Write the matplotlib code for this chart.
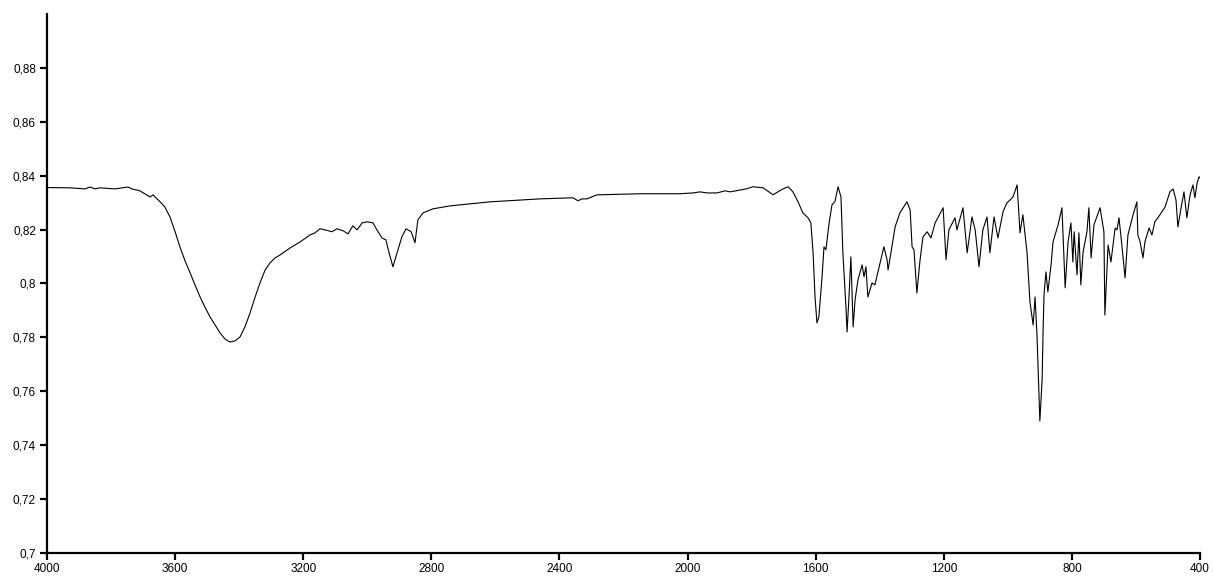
import numpy as np
import matplotlib
matplotlib.use('Agg')
import matplotlib.pyplot as plt
from matplotlib.ticker import FuncFormatter

# IR spectrum (wavenumber cm-1, transmittance)
wavenumber = [
    4000, 3928, 3881, 3866, 3850, 3835, 3788, 3747, 3735, 3710,
    3678, 3669, 3647, 3632, 3616, 3600, 3585, 3569, 3553, 3538,
    3522, 3507, 3491, 3475, 3460, 3444, 3429, 3413, 3397, 3382,
    3366, 3351, 3335, 3319, 3304, 3288, 3272, 3241, 3210, 3179,
    3163, 3148, 3132, 3110, 3095, 3076, 3060, 3045, 3032, 3016,
    3001, 2982, 2970, 2954, 2942, 2932, 2920, 2907, 2892, 2879,
    2863, 2851, 2842, 2826, 2795, 2742, 2617, 2461, 2358, 2342,
    2330, 2314, 2283, 2148, 2024, 1983, 1961, 1939, 1908, 1883,
    1867, 1836, 1817, 1796, 1764, 1733, 1718, 1702, 1686, 1671,
    1655, 1640, 1624, 1615, 1608, 1602, 1596, 1590, 1580, 1574,
    1568, 1558, 1549, 1540, 1530, 1521, 1515, 1505, 1502, 1496,
    1490, 1483, 1477, 1468, 1455, 1449, 1443, 1437, 1424, 1415,
    1399, 1387, 1377, 1374, 1365, 1352, 1337, 1315, 1305, 1299,
    1293, 1284, 1274, 1265, 1252, 1240, 1227, 1202, 1193, 1184,
    1165, 1159, 1140, 1127, 1112, 1102, 1090, 1078, 1065, 1056,
    1043, 1031, 1015, 1003, 993, 984, 971, 962, 953, 940,
    931, 921, 915, 909, 900, 893, 890, 887, 881, 875,
    865, 859, 843, 831, 821, 812, 803, 797, 793, 784,
    778, 772, 765, 753, 747, 740, 731, 712, 700, 697,
    687, 678, 665, 659, 653, 644, 634, 625, 609, 597,
    594, 587, 578, 572, 559, 550, 541, 525, 509, 494,
    484, 475, 469, 459, 450, 441, 431, 422, 416, 409,
    403, 400,
]
transmittance = [
    0.8356, 0.8355, 0.8351, 0.8358, 0.8351, 0.8355, 0.8351, 0.8358, 0.8351, 0.8344,
    0.8321, 0.8329, 0.8303, 0.8284, 0.8247, 0.8192, 0.8136, 0.8084, 0.8039, 0.7995,
    0.7950, 0.7913, 0.7876, 0.7846, 0.7817, 0.7794, 0.7783, 0.7787, 0.7802, 0.7839,
    0.7891, 0.7947, 0.8002, 0.8050, 0.8076, 0.8095, 0.8106, 0.8132, 0.8154, 0.8180,
    0.8188, 0.8203, 0.8199, 0.8192, 0.8203, 0.8196, 0.8184, 0.8214, 0.8199, 0.8225,
    0.8229, 0.8225, 0.8199, 0.8169, 0.8162, 0.8114, 0.8062, 0.8114, 0.8173, 0.8203,
    0.8192, 0.8151, 0.8236, 0.8262, 0.8277, 0.8288, 0.8303, 0.8314, 0.8318, 0.8307,
    0.8314, 0.8314, 0.8329, 0.8333, 0.8333, 0.8336, 0.8340, 0.8336, 0.8336, 0.8344,
    0.8340, 0.8347, 0.8351, 0.8359, 0.8355, 0.8329, 0.8340, 0.8351, 0.8359, 0.8340,
    0.8303, 0.8262, 0.8244, 0.8225, 0.8114, 0.7950, 0.7854, 0.7876, 0.8025, 0.8136,
    0.8125, 0.8225, 0.8292, 0.8303, 0.8359, 0.8321, 0.8114, 0.7902, 0.7820, 0.7950,
    0.8099, 0.7839, 0.7939, 0.8013, 0.8069, 0.8025, 0.8062, 0.7950, 0.8002, 0.7995,
    0.8076, 0.8136, 0.8088, 0.8050, 0.8114, 0.8210, 0.8262, 0.8303, 0.8273, 0.8136,
    0.8125, 0.7965, 0.8088, 0.8173, 0.8192, 0.8169, 0.8225, 0.8281, 0.8088, 0.8199,
    0.8244, 0.8199, 0.8281, 0.8114, 0.8247, 0.8199, 0.8062, 0.8199, 0.8247, 0.8114,
    0.8247, 0.8169, 0.8266, 0.8299, 0.8310, 0.8321, 0.8366, 0.8188, 0.8255, 0.8114,
    0.7932, 0.7846, 0.7950, 0.7809, 0.7490, 0.7642, 0.7820, 0.7958, 0.8043, 0.7969,
    0.8069, 0.8154, 0.8218, 0.8281, 0.7984, 0.8154, 0.8225, 0.8080, 0.8192, 0.8032,
    0.8188, 0.7995, 0.8117, 0.8192, 0.8281, 0.8095, 0.8218, 0.8281, 0.8192, 0.7883,
    0.8143, 0.8080, 0.8206, 0.8199, 0.8244, 0.8143, 0.8021, 0.8180, 0.8255, 0.8303,
    0.8180, 0.8154, 0.8095, 0.8154, 0.8206, 0.8180, 0.8229, 0.8255, 0.8284, 0.8340,
    0.8351, 0.8310, 0.8210, 0.8281, 0.8340, 0.8244, 0.8329, 0.8366, 0.8318, 0.8373,
    0.8396, 0.8392,
]

x_ticks = [4000, 3600, 3200, 2800, 2400, 2000, 1600, 1200, 800, 400]
y_ticks = [0.70, 0.72, 0.74, 0.76, 0.78, 0.80, 0.82, 0.84, 0.86, 0.88]


def comma_fmt(v, pos):
    return '{:g}'.format(round(v, 2)).replace('.', ',')


def plot_spectrum():
    plt.rcParams['font.family'] = ['Liberation Sans', 'DejaVu Sans']

    fig = plt.figure(figsize=(12.13, 5.79), dpi=100)
    ax = fig.add_axes([47 / 1213, 26 / 579, 1153 / 1213, 539 / 579])

    ax.plot(wavenumber, transmittance, '-', c='black', lw=0.8)

    ax.set_xlim(4000, 400)
    ax.set_ylim(0.7, 0.9)
    ax.set_xticks(x_ticks)
    ax.set_yticks(y_ticks)
    ax.yaxis.set_major_formatter(FuncFormatter(comma_fmt))

    for side in ['top', 'right']:
        ax.spines[side].set_visible(False)
    for side in ['left', 'bottom']:
        ax.spines[side].set_linewidth(1.6)

    ax.tick_params(direction='out', length=5, width=1.6, labelsize=8.5)
    ax.tick_params(axis='x', pad=2)
    ax.tick_params(axis='y', pad=3)

    fig.savefig('out.png', dpi=100)


if __name__ == "__main__":
    plot_spectrum()
